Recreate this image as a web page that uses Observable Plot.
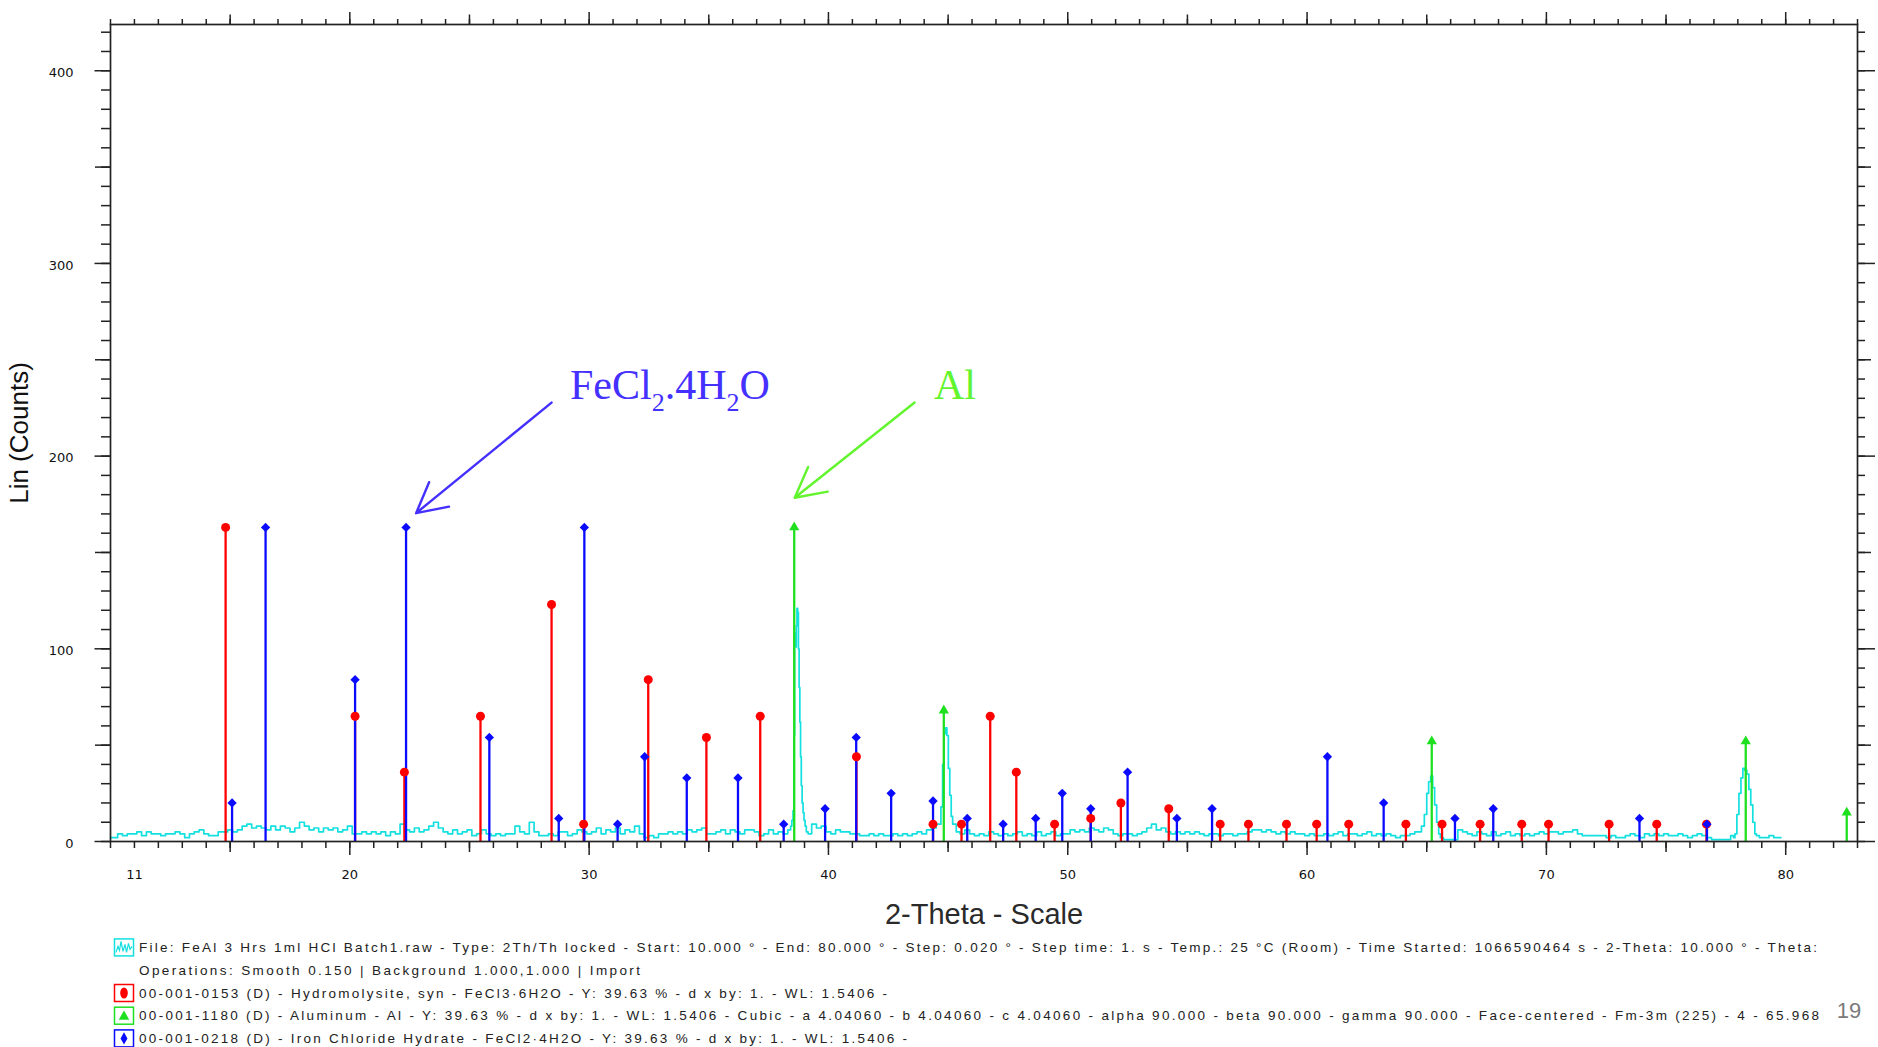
<!DOCTYPE html>
<html><head><meta charset="utf-8">
<script src="https://cdn.jsdelivr.net/npm/d3@7"></script>
<script src="https://cdn.jsdelivr.net/npm/@observablehq/plot@0.6"></script>
<style>
html,body{margin:0;padding:0;background:#fff;}
#chart svg,#legend svg{display:block;}
</style></head><body>
<div id="chart"></div>
<div id="legend"></div>
<script>
// ---------------- DATA ----------------
// measured scan (counts every 0.2° from 10.0°, read from the picture)
const scanStart = 10.0, scanStep = 0.2;
const scanCounts = [
 2,2,4,3,4,4,5,3,5,4,4,3,4,4,5,4,2,4,5,6,4,3,3,5,5,
 6,5,6,8,9,7,8,7,6,8,6,8,7,5,7,10,8,6,7,5,7,6,7,5,6,8,
 4,4,5,4,5,4,5,3,5,4,9,6,5,7,5,6,8,10,7,5,4,6,4,5,6,
 3,4,6,4,3,4,3,4,4,8,5,4,10,5,3,3,4,3,5,
 5,3,4,6,5,4,5,7,4,6,5,7,4,6,5,8,4,2,3,2,4,4,5,4,5,4,6,5,6,7,4,4,5,6,4,6,5,4,6,6,5,3,4,6,4,5,4,6,
 108,70,11,
 4,9,7,8,5,4,6,5,5,4,4,3,3,4,3,4,3,3,4,3,4,3,4,5,4,6,7,9,
 30,45,8,
 5,4,6,4,3,4,3,5,4,3,4,3,4,5,3,4,3,5,3,4,5,3,4,4,6,5,6,5,7,6,5,7,6,4,3,4,4,3,4,5,
 7,9,6,7,5,4,5,4,5,4,5,4,3,4,4,3,4,4,3,4,4,5,6,6,5,6,5,4,5,4,5,4,4,3,4,3,3,4,3,4,
 5,3,4,4,3,4,5,3,4,3,4,3,2,3,3,4,5,
 9,20,34,16,
 2,1,1,1,6,5,4,3,5,4,3,5,3,4,5,3,4,3,4,3,4,5,4,5,5,4,5,5,6,4,3,3,3,3,3,2,3,2,2,3,
 4,3,2,4,3,4,3,4,3,3,4,3,2,3,4,3,2,1,1,1,1,3,14,36,36,17,3,2,2,3,2,2
];
// finer readings across the four diffraction peaks of the scan
const peakSegments = [
 {theta:[38.44,38.50,38.54,38.57,38.60,38.64,38.67,38.70,38.73,38.76,38.79,38.82,38.85,38.88,38.92,38.96,39.00,39.05,39.10],
  counts:[8,11,16,55,108,101,112,121,119,100,80,62,44,29,20,15,11,8,5]},
 {theta:[44.66,44.74,44.80,44.86,44.92,44.98,45.04,45.10,45.16,45.22,45.28],
  counts:[9,18,40,56,59,55,38,24,13,9,9]},
 {theta:[64.72,64.84,64.96,65.04,65.12,65.21,65.29,65.37,65.46,65.54],
  counts:[5,8,14,25,31,34,28,19,10,4]},
 {theta:[77.84,77.92,78.00,78.09,78.17,78.25,78.33,78.42,78.50,78.58,78.67,78.75],
  counts:[2,4,14,25,33,38,37,35,27,19,10,4]}
];
// reference patterns (stick positions 2θ and heights in counts)
const hydroTheta  = [14.81,20.22,22.28,25.46,28.43,29.77,32.47,34.90,37.15,41.17,44.37,45.56,46.76,47.85,49.45,50.96,52.22,54.22,56.37,57.55,59.14,60.40,61.74,64.13,65.64,67.23,68.97,70.09,72.62,74.61,76.69];
const hydroCounts = [163,65,36,65,123,9,84,54,65,44,9,9,65,36,9,12,20,17,9,9,9,9,9,9,9,9,9,9,9,9,9];
const alTheta  = [38.57,44.82,65.21,78.33,82.55];
const alCounts = [163,68,52,52,15];
const fecl2Theta  = [15.08,16.48,20.22,22.35,25.83,28.73,29.80,31.19,32.32,34.08,36.22,38.13,39.86,41.16,42.62,44.37,45.80,47.30,48.66,49.77,50.96,52.50,54.56,56.03,60.85,63.20,66.18,67.78,73.89,76.71];
const fecl2Counts = [20,163,84,163,54,12,163,9,44,33,33,9,17,54,25,21,12,9,12,25,17,36,12,17,44,20,12,17,12,9];
// axes
const xDomain = [10, 83];
const yDomain = [0, 424];
const xTickLabels = [11,20,30,40,50,60,70,80];
const yTickLabels = [0,100,200,300,400];
const xTitle = "2-Theta - Scale";
const yTitle = "Lin (Counts)";
// annotations
const annotFeArrow = [{x1:28.43, y1:227.8, x2:22.77, y2:170.4}];
const annotAlArrow = [{x1:43.60, y1:227.8, x2:38.59, y2:178.4}];
const annotLabels = [
 {theta:29.22, counts:229.4, color:"#4430ff", parts:[["FeCl",0],["2",1],[".4H",0],["2",1],["O",0]]},
 {theta:44.43, counts:229.4, color:"#62f52e", parts:[["Al",0]]}
];
// legend texts
const legendTexts = [
 "File: FeAl 3 Hrs 1ml HCl Batch1.raw - Type: 2Th/Th locked - Start: 10.000 ° - End: 80.000 ° - Step: 0.020 ° - Step time: 1. s - Temp.: 25 °C (Room) - Time Started: 1066590464 s - 2-Theta: 10.000 ° - Theta:",
 "Operations: Smooth 0.150 | Background 1.000,1.000 | Import",
 "00-001-0153 (D) - Hydromolysite, syn - FeCl3·6H2O - Y: 39.63 % - d x by: 1. - WL: 1.5406 -",
 "00-001-1180 (D) - Aluminum - Al - Y: 39.63 % - d x by: 1. - WL: 1.5406 - Cubic - a 4.04060 - b 4.04060 - c 4.04060 - alpha 90.000 - beta 90.000 - gamma 90.000 - Face-centered - Fm-3m (225) - 4 - 65.968",
 "00-001-0218 (D) - Iron Chloride Hydrate - FeCl2·4H2O - Y: 39.63 % - d x by: 1. - WL: 1.5406 -"
];
const legendKinds = ["scan", null, "circle", "triangle", "diamond"];
const pageNumber = "19";

// ---------------- COLOURS ----------------
const CYAN = "#14e0e0", RED = "#ff0000", GREEN = "#1fe01f", BLUE = "#0a0aff";

// ---------------- BUILD TABLES ----------------
const windows = peakSegments.map(s => [d3.min(s.theta), d3.max(s.theta)]);
const scan = [];
scanCounts.forEach((c, i) => {
  const t = +(scanStart + i * scanStep).toFixed(2);
  if (!windows.some(([a, b]) => t > a && t < b)) scan.push({theta: t, counts: c});
});
peakSegments.forEach(s => s.theta.forEach((t, i) => scan.push({theta: t, counts: s.counts[i]})));
scan.sort((a, b) => a.theta - b.theta);

const rows = (T, C) => T.map((t, i) => ({theta: t, counts: C[i]}));
const hydro = rows(hydroTheta, hydroCounts);
const al = rows(alTheta, alCounts);
const fecl2 = rows(fecl2Theta, fecl2Counts);

const xMinor = d3.range(10, 83.5, 1);
const xMid = d3.range(15, 80, 10);
const xMajor = d3.range(20, 81, 10);
const yMinor = d3.range(0, 421, 10);
const yMid = d3.range(50, 421, 100);
const yMajor = d3.range(0, 421, 100);

const tk = {stroke: "#222", strokeWidth: 1.5, fill: "none"};

const plot = Plot.plot({
  width: 1878, height: 935,
  marginLeft: 110, marginRight: 21, marginTop: 24, marginBottom: 94,
  x: {domain: xDomain},
  y: {domain: yDomain},
  style: {fontFamily: "DejaVu Sans, sans-serif", fontSize: "13px", background: "#fff", color: "#111"},
  marks: [
    Plot.line(scan, {x: "theta", y: "counts", stroke: CYAN, strokeWidth: 1.7, curve: "step"}),
    Plot.ruleX(hydro, {x: "theta", y1: 0, y2: "counts", stroke: RED, strokeWidth: 2.3}),
    Plot.ruleX(fecl2, {x: "theta", y1: 0, y2: "counts", stroke: BLUE, strokeWidth: 2.3}),
    Plot.ruleX(al, {x: "theta", y1: 0, y2: "counts", stroke: GREEN, strokeWidth: 2.3}),
    Plot.dot(hydro, {x: "theta", y: "counts", symbol: "circle", fill: RED, r: 4.5}),
    Plot.dot(fecl2, {x: "theta", y: "counts", symbol: "diamond2", fill: BLUE, r: 4.2}),
    Plot.dot(al, {x: "theta", y: "counts", symbol: "triangle", fill: GREEN, r: 3.8}),
    Plot.frame({stroke: "#222", strokeWidth: 1.7}),
    Plot.axisX({anchor: "bottom", ticks: xMinor, tickSize: 7, ...tk}),
    Plot.axisX({anchor: "bottom", ticks: xMid, tickSize: 11, ...tk}),
    Plot.axisX({anchor: "bottom", ticks: xMajor, tickSize: 14, ...tk}),
    Plot.axisX({anchor: "top", ticks: xMinor, tickSize: 6, ...tk}),
    Plot.axisX({anchor: "top", ticks: xMid, tickSize: 10.5, ...tk}),
    Plot.axisX({anchor: "top", ticks: xMajor, tickSize: 13, ...tk}),
    Plot.axisY({anchor: "left", ticks: yMinor, tickSize: 9, ...tk}),
    Plot.axisY({anchor: "left", ticks: yMid, tickSize: 15, ...tk}),
    Plot.axisY({anchor: "left", ticks: yMajor, tickSize: 15.5, ...tk}),
    Plot.axisY({anchor: "right", ticks: yMinor, tickSize: 7, ...tk}),
    Plot.axisY({anchor: "right", ticks: yMid, tickSize: 13, ...tk}),
    Plot.axisY({anchor: "right", ticks: yMajor, tickSize: 17, ...tk}),
    Plot.axisX({anchor: "bottom", ticks: xTickLabels, tickSize: 0, tickPadding: 28, label: null, fontSize: 13, fill: "#111"}),
    Plot.axisY({anchor: "left", ticks: yTickLabels, tickSize: 0, tickPadding: 37, label: null, fontSize: 13, fill: "#111", dy: 2}),
    Plot.text([xTitle], {frameAnchor: "bottom", textAnchor: "middle", lineAnchor: "middle", dy: 73, text: d => d, fontSize: 29, fontFamily: "Liberation Sans, Arial, sans-serif", fill: "#2a2a2a"}),
    Plot.text([yTitle], {frameAnchor: "left", textAnchor: "middle", lineAnchor: "middle", rotate: -90, dx: -91, text: d => d, fontSize: 26, fontFamily: "Liberation Sans, Arial, sans-serif", fill: "#111"}),
    Plot.arrow(annotFeArrow, {x1: "x1", y1: "y1", x2: "x2", y2: "y2", stroke: "#4430ff", strokeWidth: 2.4, headLength: 21, headAngle: 56}),
    Plot.arrow(annotAlArrow, {x1: "x1", y1: "y1", x2: "x2", y2: "y2", stroke: "#62f52e", strokeWidth: 2.4, headLength: 21, headAngle: 56})
  ]
});
document.getElementById("chart").appendChild(plot);

// annotation labels with real subscripts
const sx = plot.scale("x"), sy = plot.scale("y");
const psvg = d3.select(plot);
annotLabels.forEach(a => {
  const t = psvg.append("text")
    .attr("x", sx.apply(a.theta)).attr("y", sy.apply(a.counts))
    .attr("text-anchor", "start")
    .attr("font-family", "'Liberation Serif', 'Times New Roman', serif")
    .attr("font-size", 42).attr("fill", a.color);
  let sub = 0;
  a.parts.forEach(([s, isSub]) => {
    const sp = t.append("tspan").text(s);
    if (isSub && !sub) { sp.attr("font-size", 26).attr("dy", 12); sub = 1; }
    else if (!isSub && sub) { sp.attr("dy", -12); sub = 0; }
  });
});

// ---------------- LEGEND (below the chart) ----------------
const legendY = [12.4, 35, 58, 80.7, 103.4];
const legendW = [1678, 501, 748, 1680, 768];
const kindColor = {scan: CYAN, circle: RED, triangle: GREEN, diamond: BLUE};
const leg = d3.create("svg").attr("width", 1878).attr("height", 112)
  .style("font-family", "'Liberation Sans', Arial, sans-serif");
legendTexts.forEach((txt, i) => {
  const cy = legendY[i], kind = legendKinds[i];
  if (kind) {
    const c = kindColor[kind];
    leg.append("rect").attr("x", 114.5).attr("y", cy - 8.5).attr("width", 19).attr("height", 17)
      .attr("fill", "#fff").attr("stroke", c).attr("stroke-width", 1.5);
    if (kind === "scan") {
      const pts = [[116,5],[118,-1],[119.5,3],[121,-6],[123,4],[125,-3],[126.5,5],[128.5,-4],[130,2],[132,-1]];
      leg.append("polyline").attr("points", pts.map(([x, d]) => `${x},${cy + d}`).join(" "))
        .attr("fill", "none").attr("stroke", c).attr("stroke-width", 1.2);
    } else if (kind === "circle") {
      leg.append("ellipse").attr("cx", 124).attr("cy", cy).attr("rx", 3.8).attr("ry", 5.5).attr("fill", c);
    } else {
      const sym = kind === "triangle" ? d3.symbolTriangle : d3.symbolDiamond;
      leg.append("path").attr("d", d3.symbol(sym, kind === "triangle" ? 48 : 42)())
        .attr("transform", `translate(124,${cy + (kind === "triangle" ? 1 : 0)})`).attr("fill", c);
    }
  }
  leg.append("text").attr("x", 139).attr("y", cy).attr("dy", "0.35em")
    .attr("font-size", 13.5).attr("fill", "#222")
    .attr("textLength", legendW[i]).attr("lengthAdjust", "spacing")
    .text(txt);
});
leg.append("text").attr("x", 1849).attr("y", 75).attr("dy", "0.35em").attr("text-anchor", "middle")
  .attr("font-size", 22).attr("fill", "#7a7a7a").text(pageNumber);
document.getElementById("legend").appendChild(leg.node());
</script></body></html>
